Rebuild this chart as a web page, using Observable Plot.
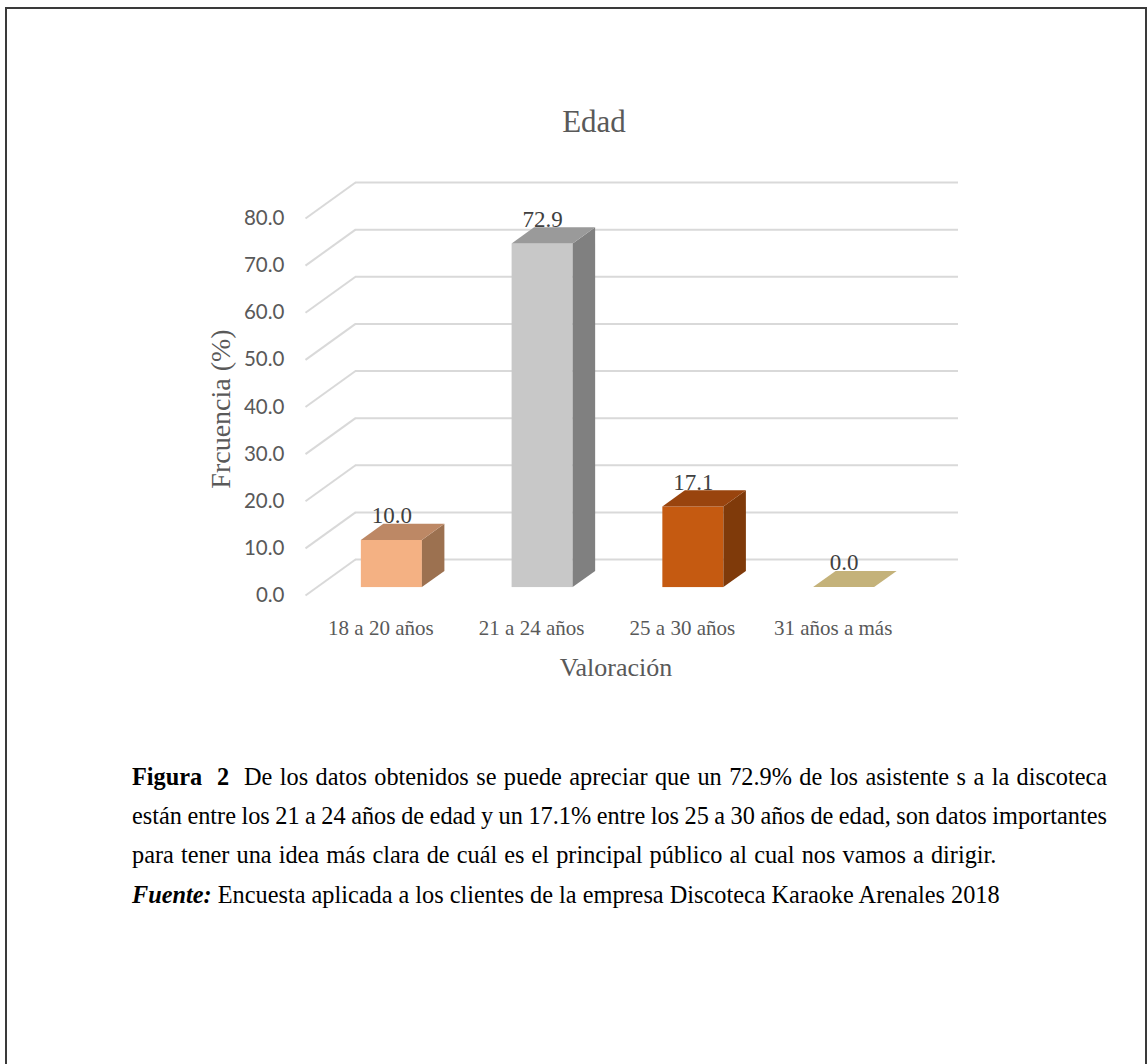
<!DOCTYPE html>
<html>
<head>
<meta charset="utf-8">
<script src="https://cdn.jsdelivr.net/npm/d3@7"></script>
<script src="https://cdn.jsdelivr.net/npm/@observablehq/plot@0.6"></script>
<style>
  html, body { margin: 0; padding: 0; background: #fff; }
  #page { position: relative; width: 1148px; height: 1064px; overflow: hidden; background: #fff; }
  #border { position: absolute; left: 5px; top: 7px; width: 1142px; height: 1080px; border: 2px solid #3a3a3a; box-sizing: border-box; }
  #title { position: absolute; top: 104px; left: 494px; width: 200px; text-align: center;
           font-family: "Liberation Serif", "Times New Roman", serif; font-size: 31px; color: #595959; }
  #chart { position: absolute; left: 0; top: 140px; }
  #caption { position: absolute; left: 132px; top: 757px; width: 975px;
             font-family: "Liberation Serif", "Times New Roman", serif; font-size: 24.3px; line-height: 39px; color: #000; }
  .jl { text-align: justify; text-align-last: justify; word-spacing: -4px; }
  #l3 { word-spacing: 1px; }
  #fuente { margin-top: 1px; }
</style>
</head>
<body>
<div id="page">
  <div id="border"></div>
  <div id="title">Edad</div>
  <div id="chart"></div>
  <div id="caption">
    <div class="jl"><b>Figura&nbsp; 2</b>&nbsp; De los datos obtenidos se puede apreciar que un 72.9% de los asistente s a la discoteca</div>
    <div class="jl">están entre los 21 a 24 años de edad y un 17.1% entre los 25 a 30 años de edad, son datos importantes</div>
    <div id="l3">para tener una idea más clara de cuál es el principal público al cual nos vamos a dirigir.</div>
    <div id="fuente"><b><i>Fuente:</i></b> Encuesta aplicada a los clientes de la empresa Discoteca Karaoke Arenales 2018</div>
  </div>
</div>
<script>
// ---- data ----
const categories = ["18 a 20 años", "21 a 24 años", "25 a 30 años", "31 años a más"];
const values = [10.0, 72.9, 17.1, 0.0];
const frontColors = ["#F4B183", "#C8C8C8", "#C55A11", "#C5B279"];
const topColors   = ["#BD8865", "#9A9A9A", "#99440E", "#C4B27A"];
const sideColors  = ["#9C7150", "#808080", "#7F3A0A", "#A8955F"];
const yTicks = [0, 10, 20, 30, 40, 50, 60, 70, 80];

// ---- layout ----
const W = 1148, H = 560;
const mL = 355, mR = 190, mT = 42, mB = 141;
const yMax = 80;
const pxX = (W - mL - mR) / categories.length;
const pxY = (H - mT - mB) / yMax;
// oblique depth of the floor (back wall -> front edge), in pixels, converted to data units
const DXpx = -50, DYpx = 36;
const ddx = DXpx / pxX, ddy = -DYpx / pxY;
const fF = 0.78, fB = 0.33;   // bar front / back depth fractions
const hw = 0.2025;            // half bar width (category units)

const bars = categories.map((c, i) => {
  const cx = i + 0.5, v = values[i];
  return {
    cat: c, v, i,
    fx1: cx - hw + fF * ddx, fx2: cx + hw + fF * ddx,
    fy1: fF * ddy, fy2: v + fF * ddy,
    front: frontColors[i], top: topColors[i], side: sideColors[i],
    lx: cx + fF * ddx, ly: v + fB * ddy,
    label: v.toFixed(1),
    ax: cx + ddx, ay: ddy
  };
});
const topFaces = bars.flatMap(b => [
  {i: b.i, y: b.v + fF * ddy, x1: b.fx1, x2: b.fx2, fill: b.top},
  {i: b.i, y: b.v + fB * ddy, x1: b.fx1 + (fB - fF) * ddx, x2: b.fx2 + (fB - fF) * ddx, fill: b.top}
]);
const sideFaces = bars.flatMap(b => [
  {i: b.i, x: b.fx2, y1: fF * ddy, y2: b.v + fF * ddy, fill: b.side},
  {i: b.i, x: b.fx2 + (fB - fF) * ddx, y1: fB * ddy, y2: b.v + fB * ddy, fill: b.side}
]);

const serif = "'Liberation Serif', 'Times New Roman', serif";
const sans = "Lato, 'Open Sans', sans-serif";

const chart = Plot.plot({
  width: W, height: H,
  marginLeft: mL, marginRight: mR, marginTop: mT, marginBottom: mB,
  x: {domain: [0, categories.length], axis: null},
  y: {domain: [0, yMax], axis: null},
  color: {type: "identity"},
  style: {background: "transparent", overflow: "visible"},
  marks: [
    Plot.ruleY(yTicks, {stroke: "#d9d9d9", strokeWidth: 2}),
    Plot.link(yTicks, {x1: 0, y1: d => d, x2: ddx, y2: d => d + ddy, stroke: "#d9d9d9", strokeWidth: 2}),
    Plot.rect(bars, {x1: "fx1", x2: "fx2", y1: "fy1", y2: "fy2", fill: "front"}),
    Plot.areaY(sideFaces, {x: "x", y1: "y1", y2: "y2", z: "i", fill: "fill"}),
    Plot.areaX(topFaces, {y: "y", x1: "x1", x2: "x2", z: "i", fill: "fill"}),
    Plot.text(bars, {x: "lx", y: "ly", text: "label", lineAnchor: "bottom", dy: -1,
      fontFamily: serif, fontSize: 23, fill: "#404040"}),
    Plot.text(yTicks, {x: ddx, y: d => d + ddy, text: d => d.toFixed(1), textAnchor: "end", dx: -21,
      fontFamily: sans, fontSize: 20.5, fill: "#595959"}),
    Plot.text(bars, {x: "ax", y: "ay", text: "cat", dy: 33, fontFamily: serif, fontSize: 21, fill: "#595959"}),
    Plot.text(["Frcuencia (%)"], {frameAnchor: "left", textAnchor: "middle", lineAnchor: "middle",
      dx: -134, dy: 38, rotate: -90, fontFamily: serif, fontSize: 28, fill: "#595959"}),
    Plot.text(["Valoración"], {frameAnchor: "bottom", textAnchor: "middle", lineAnchor: "middle",
      dx: -41, dy: 108, fontFamily: serif, fontSize: 26, fill: "#595959"})
  ]
});
document.getElementById("chart").appendChild(chart);
</script>
</body>
</html>
